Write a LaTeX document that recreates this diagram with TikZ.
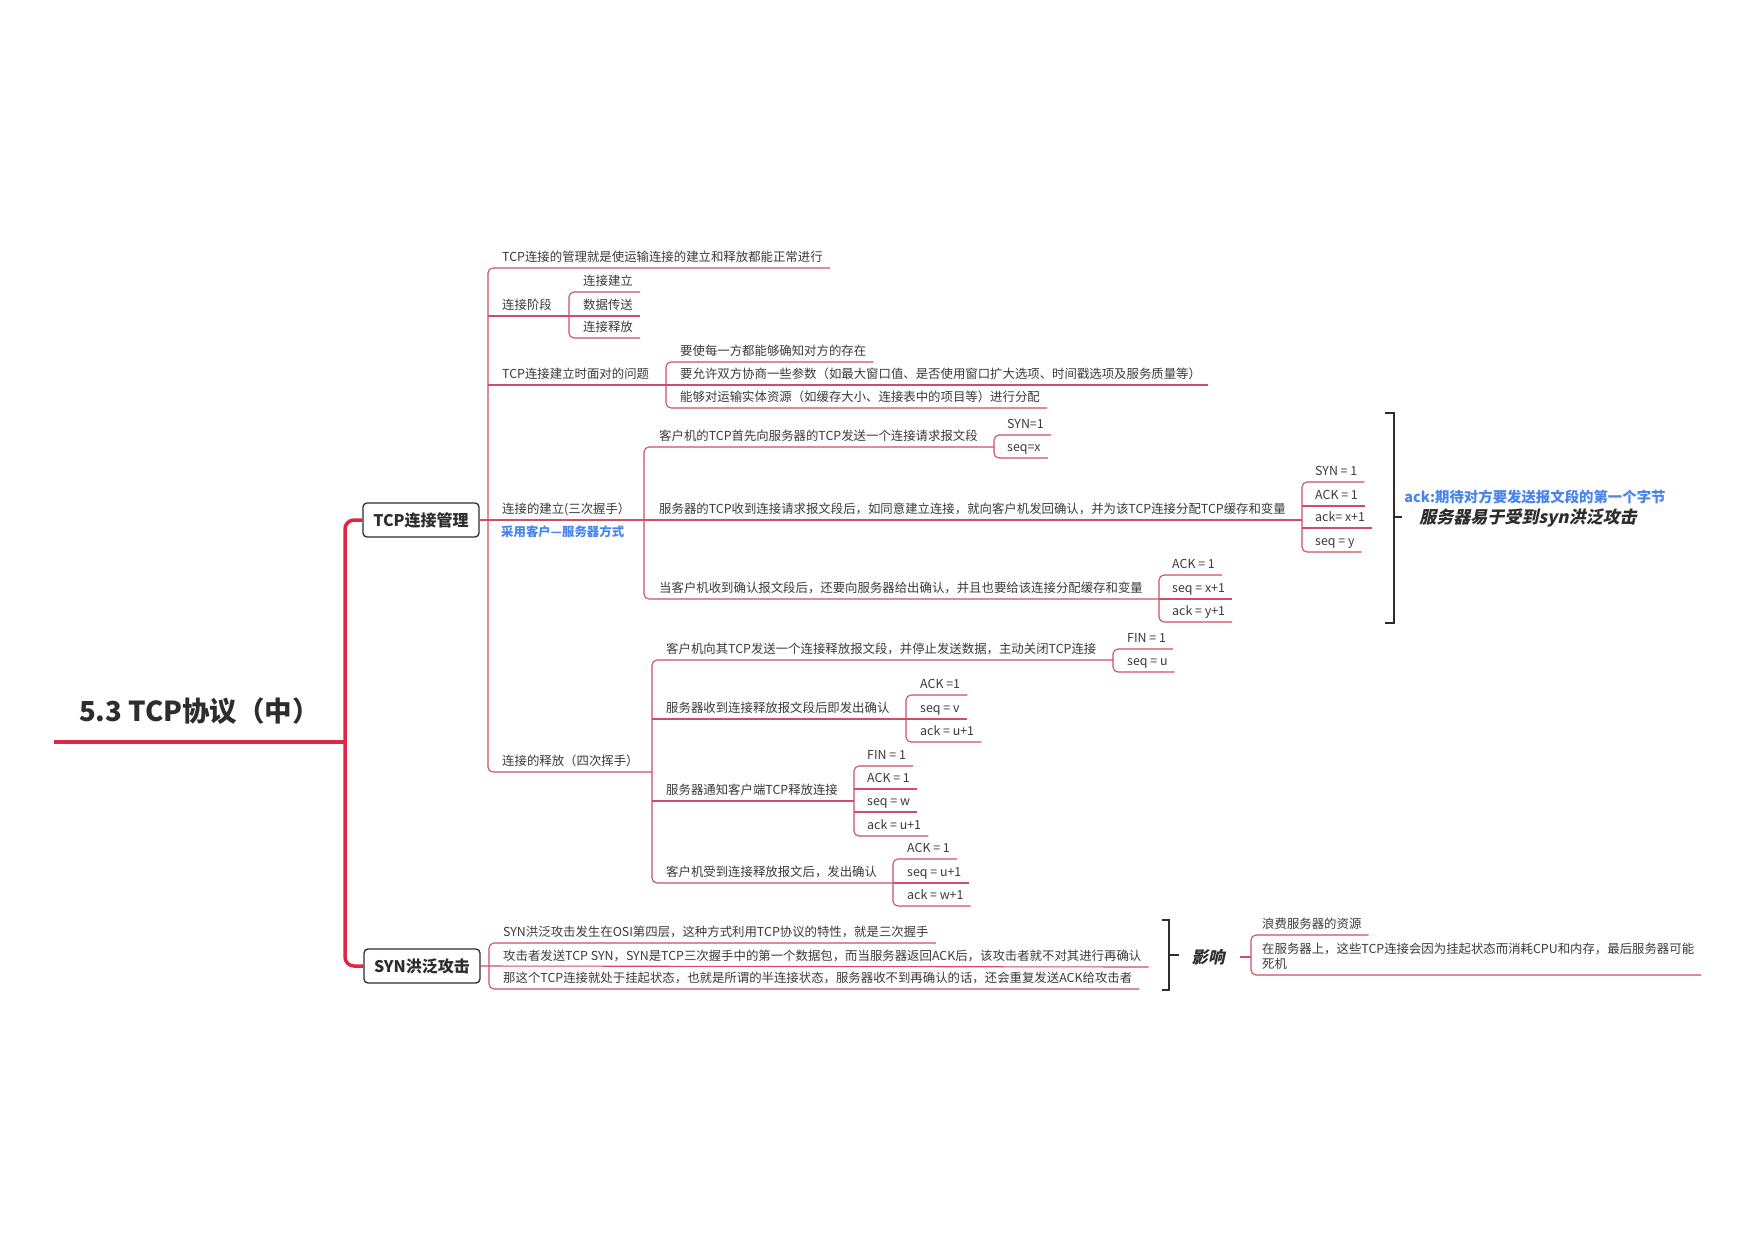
\documentclass[tikz,border=0pt]{standalone}
\usepackage{fontspec}
\setmainfont{Noto Sans CJK SC}
\newfontfamily\slantcjk[FakeSlant=0.22]{Noto Sans CJK SC}
\usetikzlibrary{positioning,calc}
\definecolor{mmred}{RGB}{220,40,70}
\definecolor{mmline}{RGB}{205,78,102}
\definecolor{mmink}{RGB}{58,58,58}
\definecolor{mmdark}{RGB}{45,45,45}
\definecolor{mmblue}{RGB}{72,132,236}
\tikzset{
  leaf/.style={anchor=south west,inner xsep=7pt,inner ysep=0pt,text depth=6pt,
               text=mmink,font=\fontsize{12.4}{15}\selectfont},
  topic/.style={draw=mmdark,line width=1.3pt,rounded corners=4pt,fill=white,
                minimum width=116pt,minimum height=34pt,text=mmdark,
                font=\fontsize{16}{18}\selectfont\bfseries},
  branch/.style={draw=mmline,line width=1.1pt,rounded corners=5pt},
  trunk/.style={draw=mmred,line width=3.5pt,rounded corners=9pt},
  brk/.style={draw=mmdark,line width=2.6pt},
}

\begin{document}
\begin{tikzpicture}[x=1pt,y=-1pt]
  \useasboundingbox[fill=white] (0,0) rectangle (1755,1240);

  % root and main topics
  \node[anchor=south,inner sep=0pt,minimum width=291pt,text depth=20pt,text=mmdark,
        font=\fontsize{27.5}{31}\selectfont\bfseries] (root) at (199.5,742) {5.3 TCP协议（中）};
  \node[topic] (tcpm) at (421,520) {TCP连接管理};
  \node[topic] (synf) at (422,966) {SYN洪泛攻击};
  \draw[draw=mmred,line width=4pt] (root.south west) -- (root.south east);
  \draw[trunk] (tcpm.west) -- (345,520) -- (345,966) -- (synf.west);

  % junctions
  \coordinate (tcpJ) at (488,520);
  \coordinate (phaseJ) at (569,316);
  \coordinate (issueJ) at (666,385);
  \coordinate (estJ) at (644,520);
  \coordinate (relJ) at (652,772);
  \coordinate (d1J) at (994,447);
  \coordinate (d2J) at (1302,520);
  \coordinate (d3J) at (1159,599);
  \coordinate (e1J) at (1113,660);
  \coordinate (e2J) at (906,719);
  \coordinate (e3J) at (854,801);
  \coordinate (e4J) at (893,883);
  \coordinate (synJ) at (489,967);
  \coordinate (impJ) at (1251,957);

  % TCP connection management
  \node[leaf] (mgmt) at (495,268) {TCP连接的管理就是使运输连接的建立和释放都能正常进行};
  \node[leaf] (phase) at (495,316) {连接阶段};
  \node[leaf] (ph1) at (576,292) {连接建立};
  \node[leaf] (ph2) at (576,316) {数据传送};
  \node[leaf] (ph3) at (576,338) {连接释放};
  \node[leaf] (issue) at (495,385) {TCP连接建立时面对的问题};
  \node[leaf] (is1) at (673,362) {要使每一方都能够确知对方的存在};
  \node[leaf] (is2) at (673,385) {要允许双方协商一些参数（如最大窗口值、是否使用窗口扩大选项、时间戳选项及服务质量等）};
  \node[leaf] (is3) at (673,408) {能够对运输实体资源（如缓存大小、连接表中的项目等）进行分配};
  \node[leaf] (est) at (495,520) {连接的建立(三次握手）};
  \node[anchor=west,inner sep=0pt,text=mmblue,font=\fontsize{12.4}{15}\selectfont\bfseries]
        (estnote) at (501,532) {采用客户—服务器方式};
  \node[leaf] (rel) at (495,772) {连接的释放（四次挥手）};

  \draw[branch] (mgmt.south east) -- (mgmt.south -| tcpJ) -- (rel.south -| tcpJ) -- (relJ);
  \draw[branch] (phase.south -| tcpJ) -- (phaseJ);
  \draw[branch] (issue.south -| tcpJ) -- (issueJ);
  \draw[branch] (tcpm.east) -- (estJ);
  \draw[branch] (ph1.south east) -- (ph1.south -| phaseJ) -- (ph3.south -| phaseJ) -- (ph3.south east);
  \draw[branch] (ph2.south -| phaseJ) -- (ph2.south east);
  \draw[branch] (is1.south east) -- (is1.south -| issueJ) -- (is3.south -| issueJ) -- (is3.south east);
  \draw[branch] (is2.south -| issueJ) -- (is2.south east);

  % three-way handshake
  \node[leaf] (d1) at (652,447) {客户机的TCP首先向服务器的TCP发送一个连接请求报文段};
  \node[leaf] (d2) at (652,520) {服务器的TCP收到连接请求报文段后，如同意建立连接，就向客户机发回确认，并为该TCP连接分配TCP缓存和变量};
  \node[leaf] (d3) at (652,599) {当客户机收到确认报文段后，还要向服务器给出确认，并且也要给该连接分配缓存和变量};
  \node[leaf] (d11) at (1000,435) {SYN=1};
  \node[leaf] (d12) at (1000,458) {seq=x};
  \node[leaf] (d21) at (1308,482) {SYN = 1};
  \node[leaf] (d22) at (1308,506) {ACK = 1};
  \node[leaf] (d23) at (1308,528) {ack= x+1};
  \node[leaf] (d24) at (1308,552) {seq = y};
  \node[leaf] (d31) at (1165,575) {ACK = 1};
  \node[leaf] (d32) at (1165,599) {seq = x+1};
  \node[leaf] (d33) at (1165,622) {ack = y+1};

  \draw[branch] (d1J) -- (d1.south -| estJ) -- (d3.south -| estJ) -- (d3J);
  \draw[branch] (estJ) -- (d2J);
  \draw[branch] (d11.south east) -- (d11.south -| d1J) -- (d12.south -| d1J) -- (d12.south east);
  \draw[branch] (d21.south east) -- (d21.south -| d2J) -- (d24.south -| d2J) -- (d24.south east);
  \draw[branch] (d22.south -| d2J) -- (d22.south east);
  \draw[branch] (d23.south -| d2J) -- (d23.south east);
  \draw[branch] (d31.south east) -- (d31.south -| d3J) -- (d33.south -| d3J) -- (d33.south east);
  \draw[branch] (d32.south -| d3J) -- (d32.south east);

  % summary of the handshake
  \draw[brk] (1385,413) -- (1394,413) -- (1394,623) -- (1385,623);
  \draw[brk] (1394,517) -- (1402,517);
  \node[text=mmblue,font=\fontsize{14.4}{17}\selectfont\bfseries] (acknote) at (1535,497) {ack:期待对方要发送报文段的第一个字节};
  \node[text=mmdark,font=\slantcjk\fontsize{17}{20}\selectfont\bfseries] (synrisk) at (1528,518) {服务器易于受到syn洪泛攻击};

  % four-way wave
  \node[leaf] (e1) at (659,660) {客户机向其TCP发送一个连接释放报文段，并停止发送数据，主动关闭TCP连接};
  \node[leaf] (e2) at (659,719) {服务器收到连接释放报文段后即发出确认};
  \node[leaf] (e3) at (659,801) {服务器通知客户端TCP释放连接};
  \node[leaf] (e4) at (659,883) {客户机受到连接释放报文后，发出确认};
  \node[leaf] (e11) at (1120,649) {FIN = 1};
  \node[leaf] (e12) at (1120,672) {seq = u};
  \node[leaf] (e21) at (913,695) {ACK =1};
  \node[leaf] (e22) at (913,719) {seq = v};
  \node[leaf] (e23) at (913,742) {ack = u+1};
  \node[leaf] (e31) at (860,766) {FIN = 1};
  \node[leaf] (e32) at (860,789) {ACK = 1};
  \node[leaf] (e33) at (860,812) {seq = w};
  \node[leaf] (e34) at (860,836) {ack = u+1};
  \node[leaf] (e41) at (900,859) {ACK = 1};
  \node[leaf] (e42) at (900,883) {seq = u+1};
  \node[leaf] (e43) at (900,906) {ack = w+1};

  \draw[branch] (e1J) -- (e1.south -| relJ) -- (e4.south -| relJ) -- (e4J);
  \draw[branch] (e2.south -| relJ) -- (e2J);
  \draw[branch] (e3.south -| relJ) -- (e3J);
  \draw[branch] (e11.south east) -- (e11.south -| e1J) -- (e12.south -| e1J) -- (e12.south east);
  \draw[branch] (e21.south east) -- (e21.south -| e2J) -- (e23.south -| e2J) -- (e23.south east);
  \draw[branch] (e22.south -| e2J) -- (e22.south east);
  \draw[branch] (e31.south east) -- (e31.south -| e3J) -- (e34.south -| e3J) -- (e34.south east);
  \draw[branch] (e32.south -| e3J) -- (e32.south east);
  \draw[branch] (e33.south -| e3J) -- (e33.south east);
  \draw[branch] (e41.south east) -- (e41.south -| e4J) -- (e43.south -| e4J) -- (e43.south east);
  \draw[branch] (e42.south -| e4J) -- (e42.south east);

  % SYN flood
  \node[leaf] (s1) at (496,943) {SYN洪泛攻击发生在OSI第四层，这种方式利用TCP协议的特性，就是三次握手};
  \node[leaf] (s2) at (496,967) {攻击者发送TCP SYN，SYN是TCP三次握手中的第一个数据包，而当服务器返回ACK后，该攻击者就不对其进行再确认};
  \node[leaf] (s3) at (496,989) {那这个TCP连接就处于挂起状态，也就是所谓的半连接状态，服务器收不到再确认的话，还会重复发送ACK给攻击者};
  \draw[branch] (s1.south east) -- (s1.south -| synJ) -- (s3.south -| synJ) -- (s3.south east);
  \draw[branch] (synf.east) -- (s2.south east);

  \draw[brk] (1162,920) -- (1169,920) -- (1169,990) -- (1162,990);
  \draw[brk] (1169,955) -- (1179,955);
  \node[inner xsep=15pt,text=mmdark,font=\slantcjk\fontsize{16.5}{19}\selectfont\bfseries] (impact) at (1208,957) {影响};
  \node[leaf] (imp1) at (1255,935) {浪费服务器的资源};
  \node[leaf,align=left] (imp2) at (1255,975) {在服务器上，这些TCP连接会因为挂起状态而消耗CPU和内存，最后服务器可能\\死机};
  \draw[branch] (impact.east) -- (impJ);
  \draw[branch] (imp1.south east) -- (imp1.south -| impJ) -- (imp2.south -| impJ) -- (imp2.south east);
\end{tikzpicture}
\end{document}
